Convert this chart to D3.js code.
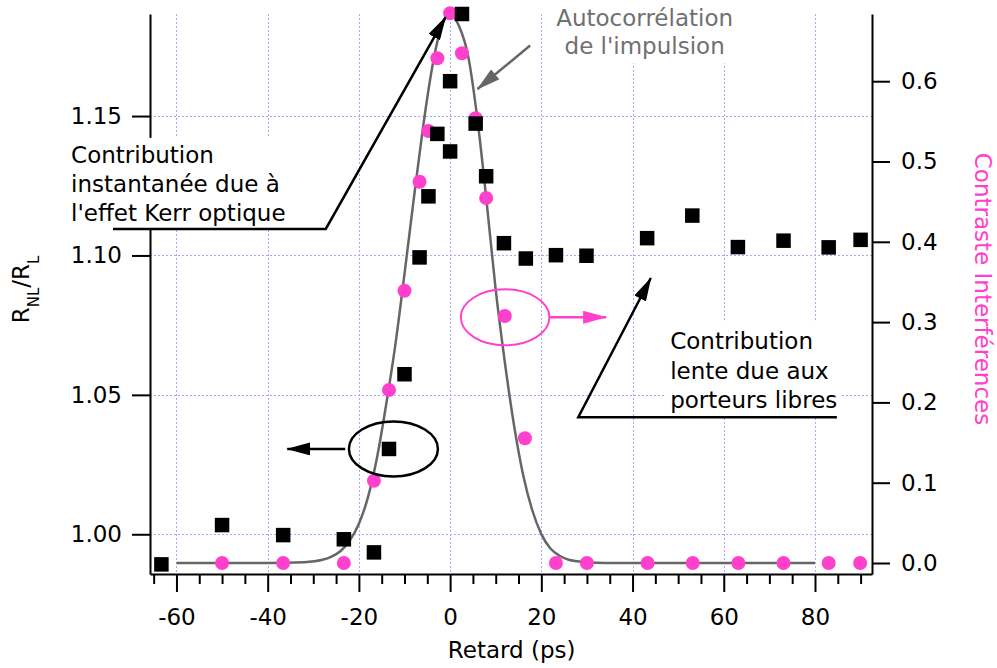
<!DOCTYPE html>
<html>
<head>
<meta charset="utf-8">
<script src="https://cdn.jsdelivr.net/npm/d3@7"></script>
<style>
  body { margin: 0; background: #ffffff; }
  svg { display: block; font-family: "DejaVu Sans", sans-serif; }
</style>
</head>
<body>
<svg id="chart" width="997" height="668"></svg>
<script>
// Nonlinear reflectivity ratio R_NL/R_L (left axis), black squares
const squareDelays = [-63.3, -50, -36.6, -23.3, -16.7, -13.4, -10, -6.7, -4.75, -2.8, 0, 0, 2.6, 5.6, 7.9,
                      11.8, 16.6, 23.2, 29.9, 43.2, 53.1, 63.1, 73.1, 83.0, 90.0];
const squareRatio  = [0.9892, 1.0033, 0.9997, 0.9982, 0.9935, 1.0306, 1.0574, 1.0993, 1.1212, 1.1436, 1.1373, 1.1625, 1.1866, 1.1473, 1.1284,
                      1.1044, 1.0989, 1.1001, 1.0999, 1.1062, 1.1143, 1.1030, 1.1053, 1.1029, 1.1056];

// Interference contrast (right axis), pink dots
const dotDelays   = [-50, -36.6, -23.3, -16.7, -13.4, -10, -6.7, -4.75, -2.8, 0, 2.6, 5.6, 7.9, 12.0, 16.4,
                     23.2, 30.0, 43.3, 53.2, 63.2, 73.1, 83.0, 89.9];
const dotContrast = [0, 0, 0, 0.1025, 0.2154, 0.339, 0.4748, 0.538, 0.6285, 0.6846, 0.6348, 0.5538, 0.4545, 0.3076, 0.1553,
                     0, 0, 0, 0, 0, 0, 0, 0];

// Pulse autocorrelation trace (right axis), grey line
const fitDelays   = [-60, -40, -32, -28, -26, -24, -22, -20, -18, -16, -14, -12, -10, -8, -6, -4, -2, 0,
                     2, 4, 6, 8, 10, 12, 14, 16, 18, 20, 22, 24, 26, 30, 34, 80];
const fitContrast = [0, 0, 0.001, 0.004, 0.008, 0.015, 0.028, 0.049, 0.082, 0.132, 0.198, 0.272, 0.360, 0.452, 0.540, 0.615, 0.666, 0.683,
                     0.668, 0.630, 0.552, 0.450, 0.340, 0.250, 0.172, 0.110, 0.066, 0.036, 0.018, 0.009, 0.004, 0.001, 0, 0];

// Axis ticks
const xTicks = [-60, -40, -20, 0, 20, 40, 60, 80];
const xMinorTicks = [-65, -55, -50, -45, -35, -30, -25, -15, -10, -5, 5, 10, 15, 25, 30, 35, 45, 50, 55, 65, 70, 75, 85, 90];
const leftTicks = [1.00, 1.05, 1.10, 1.15];
const rightTicks = [0.0, 0.1, 0.2, 0.3, 0.4, 0.5, 0.6];

const PINK = "#ff40cc";
const FONT = 23;

const svg = d3.select("#chart");

const x  = d3.scaleLinear().domain([-65.8, 92.5]).range([150, 872]);
const yL = d3.scaleLinear().domain([0.98575, 1.1866]).range([574, 14]);
const yR = d3.scaleLinear().domain([-0.0137, 0.6837]).range([574, 14]);

// snap a 1px line onto the pixel grid
const crisp = v => Math.round(v) + 0.5;

// Grid (dotted) at major ticks
const grid = svg.append("g").attr("stroke", "#a8a8ff").attr("stroke-width", 1).attr("stroke-dasharray", "2,2");
grid.selectAll("line.v").data(xTicks).join("line")
  .attr("x1", d => crisp(x(d))).attr("x2", d => crisp(x(d)))
  .attr("y1", yL.range()[1]).attr("y2", yL.range()[0]);
grid.selectAll("line.h").data(leftTicks).join("line")
  .attr("x1", x.range()[0]).attr("x2", x.range()[1])
  .attr("y1", d => crisp(yL(d))).attr("y2", d => crisp(yL(d)));

// Autocorrelation trace
const fit = fitDelays.map((t, i) => [t, fitContrast[i]]);
svg.append("path")
  .datum(fit)
  .attr("fill", "none").attr("stroke", "#666666").attr("stroke-width", 2.5)
  .attr("d", d3.line().x(d => x(d[0])).y(d => yR(d[1])).curve(d3.curveMonotoneX));

// Contrast dots
svg.append("g").selectAll("circle")
  .data(dotDelays.map((t, i) => [t, dotContrast[i]]))
  .join("circle")
  .attr("cx", d => x(d[0])).attr("cy", d => yR(d[1])).attr("r", 7)
  .attr("fill", PINK);

// Ratio squares
const SQ = 14.5;
svg.append("g").selectAll("rect")
  .data(squareDelays.map((t, i) => [t, squareRatio[i]]))
  .join("rect")
  .attr("x", d => x(d[0]) - SQ / 2).attr("y", d => yL(d[1]) - SQ / 2)
  .attr("width", SQ).attr("height", SQ)
  .attr("fill", "#000");

// Axes
function styleAxis(g) {
  g.selectAll("path.domain").attr("stroke", "#000").attr("stroke-width", 2);
  g.selectAll(".tick line").attr("stroke", "#000").attr("stroke-width", 2);
  g.selectAll(".tick text").attr("fill", "#000").attr("font-size", FONT).attr("font-family", "DejaVu Sans, sans-serif");
}

const gx = svg.append("g").attr("transform", `translate(0,${yL.range()[0]})`)
  .call(d3.axisBottom(x).tickValues(xTicks).tickSize(18).tickSizeOuter(0).tickPadding(17).tickFormat(d => String(d)));
styleAxis(gx);
const gxMinor = svg.append("g").attr("transform", `translate(0,${yL.range()[0]})`)
  .call(d3.axisBottom(x).tickValues(xMinorTicks).tickSize(10).tickSizeOuter(0).tickFormat(""));
gxMinor.select("path.domain").remove();
styleAxis(gxMinor);

const gl = svg.append("g").attr("transform", `translate(${x.range()[0]},0)`)
  .call(d3.axisLeft(yL).tickValues(leftTicks).tickSize(18).tickSizeOuter(0).tickPadding(10).tickFormat(d3.format(".2f")));
styleAxis(gl);

const gr = svg.append("g").attr("transform", `translate(${x.range()[1]},0)`)
  .call(d3.axisRight(yR).tickValues(rightTicks).tickSize(18).tickSizeOuter(0).tickPadding(11).tickFormat(d3.format(".1f")));
styleAxis(gr);

// Axis titles
svg.append("text")
  .attr("x", x(13.5)).attr("y", 658)
  .attr("text-anchor", "middle").attr("font-size", FONT).attr("fill", "#000")
  .text("Retard (ps)");

const lt = svg.append("text")
  .attr("transform", "translate(28.5,289.5) rotate(-90)")
  .attr("text-anchor", "middle").attr("font-size", FONT).attr("fill", "#000");
lt.append("tspan").text("R");
lt.append("tspan").attr("font-size", 15).attr("dy", 10).text("NL");
lt.append("tspan").attr("dy", -10).text("/R");
lt.append("tspan").attr("font-size", 15).attr("dy", 10).text("L");

svg.append("text")
  .attr("transform", "translate(975,289) rotate(90)")
  .attr("text-anchor", "middle").attr("font-size", FONT).attr("fill", PINK)
  .text("Contraste Interférences");

// Arrowheads
const defs = svg.append("defs");
function head(id, color) {
  defs.append("marker")
    .attr("id", id).attr("markerUnits", "userSpaceOnUse")
    .attr("viewBox", "0 0 24 13").attr("refX", 23).attr("refY", 6.5)
    .attr("markerWidth", 24).attr("markerHeight", 13).attr("orient", "auto")
    .append("path").attr("d", "M0,0 L24,6.5 L0,13 Z").attr("fill", color);
}
head("headBlack", "#000");
head("headGrey", "#666666");
head("headPink", PINK);

// Annotation: instantaneous Kerr contribution
const kerrText = { t: -83.1, v: 1.1332 };
const kerrLines = ["Contribution", "instantanée due à", "l'effet Kerr optique"];
svg.append("rect")
  .attr("x", x(kerrText.t) - 5).attr("y", yL(kerrText.v) - 25)
  .attr("width", 232).attr("height", 91).attr("fill", "#fff");
svg.append("path")
  .attr("d", d3.line()([[x(-73.9), yL(1.1095)], [x(-27.26), yL(1.1095)], [x(-1.0), yL(1.1855)]]))
  .attr("fill", "none").attr("stroke", "#000").attr("stroke-width", 2.5)
  .attr("marker-end", "url(#headBlack)");
const kt = svg.append("text").attr("font-size", FONT).attr("fill", "#000");
kerrLines.forEach((s, i) => kt.append("tspan")
  .attr("x", x(kerrText.t)).attr("y", yL(kerrText.v) + i * 29.3).text(s));

// Annotation: pulse autocorrelation
const acText = { t: 42.65, v: 1.1822 };
svg.append("rect")
  .attr("x", x(acText.t) - 96).attr("y", 0)
  .attr("width", 192).attr("height", yL(acText.v) + 37).attr("fill", "#fff");
const at = svg.append("text").attr("font-size", FONT).attr("fill", "#707070").attr("text-anchor", "middle");
["Autocorrélation", "de l'impulsion"].forEach((s, i) => at.append("tspan")
  .attr("x", x(acText.t)).attr("y", yL(acText.v) + i * 27.5).text(s));
svg.append("line")
  .attr("x1", x(17.54)).attr("y1", yL(1.1753)).attr("x2", x(6.0)).attr("y2", yL(1.1597))
  .attr("stroke", "#666666").attr("stroke-width", 2.5).attr("marker-end", "url(#headGrey)");

// Annotation: slow free-carrier contribution
const slowText = { t: 48.25, v: 1.0664 };
svg.append("rect")
  .attr("x", x(slowText.t) - 4).attr("y", yL(slowText.v) - 27)
  .attr("width", 174).attr("height", 94).attr("fill", "#fff");
svg.append("path")
  .attr("d", d3.line()([[x(84.8), yL(1.042)], [x(28.1), yL(1.042)], [x(44.0), yL(1.0919)]]))
  .attr("fill", "none").attr("stroke", "#000").attr("stroke-width", 2.5)
  .attr("marker-end", "url(#headBlack)");
const st = svg.append("text").attr("font-size", FONT).attr("fill", "#000");
["Contribution", "lente due aux", "porteurs libres"].forEach((s, i) => st.append("tspan")
  .attr("x", x(slowText.t)).attr("y", yL(slowText.v) + i * 29.5).text(s));

// Series markers: black ellipse → left axis, pink ellipse → right axis
svg.append("ellipse")
  .attr("cx", x(-12.43)).attr("cy", yL(1.0306)).attr("rx", 44.5).attr("ry", 27.5)
  .attr("fill", "none").attr("stroke", "#000").attr("stroke-width", 2.5);
svg.append("line")
  .attr("x1", x(-23.0)).attr("y1", yL(1.0306)).attr("x2", x(-35.7)).attr("y2", yL(1.0306))
  .attr("stroke", "#000").attr("stroke-width", 2.5).attr("marker-end", "url(#headBlack)");

svg.append("ellipse")
  .attr("cx", x(12.06)).attr("cy", yR(0.306)).attr("rx", 44.3).attr("ry", 28)
  .attr("fill", "none").attr("stroke", PINK).attr("stroke-width", 2);
svg.append("line")
  .attr("x1", x(21.8)).attr("y1", yR(0.306)).attr("x2", x(34.2)).attr("y2", yR(0.306))
  .attr("stroke", PINK).attr("stroke-width", 2.5).attr("marker-end", "url(#headPink)");
</script>
</body>
</html>
